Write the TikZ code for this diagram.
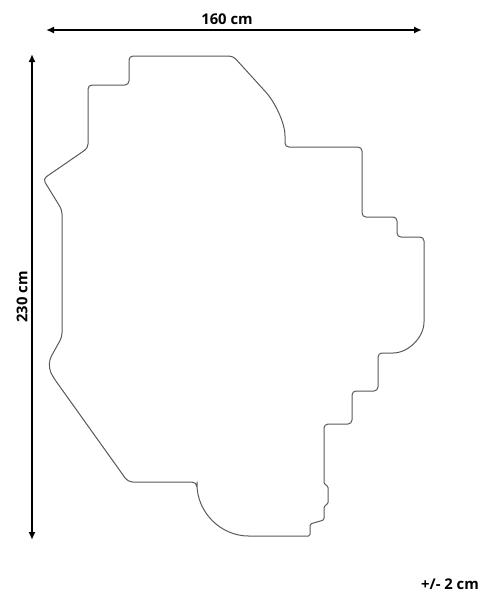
\documentclass[tikz,border=0pt]{standalone}
\usepackage{fontspec}
\setmainfont{Open Sans}
\usetikzlibrary{arrows.meta}
\begin{document}
\begin{tikzpicture}
[x=1pt,y=-1pt,
  dimDecorate/.style={{Latex[length=8pt,width=7pt]}-{Latex[length=8pt,width=7pt]},line width=2pt},
  outlineDecorate/.style={line width=1pt,draw=black!65,rounded corners=4pt},
  labelDecorate/.style={font=\fontsize{14.8}{17}\selectfont\bfseries,inner sep=0pt}]
\useasboundingbox (0,0) rectangle (492,600);
%% end points of the dimension lines
\foreach \pointname/\x/\y in {
  widthL/46/30, widthR/422/30, heightT/32/54, heightB/32/540}
{
  \coordinate (\pointname) at (\x,\y);
}
%% dimension lines
\draw[dimDecorate] (widthL) -- (widthR);
\draw[dimDecorate] (heightT) -- (heightB);
%% labels
\node (widthLabel) at (227,19) [labelDecorate] {160 cm};
\node (heightLabel) at (22,297) [labelDecorate,rotate=90] {230 cm};
\node (toleranceLabel) at (450,584) [labelDecorate] {+/- 2 cm};
%% outline of the rug
\draw[outlineDecorate]
  (88,148) -- (88,85) -- (129,85) -- (129,56) -- (233,56) -- (263,89)
  .. controls (274,101) and (285,122) .. (285,140) -- (285,147)
  -- (362,147) -- (362,217) -- (397,217) -- (397,237) -- (424,237)
  -- (424,318) arc[start angle=0,end angle=90,radius=35]
  -- (378,353) -- (378,391) -- (352,391) -- (352,424) -- (324,424)
  [rounded corners=1.5pt] -- (324,484) -- (328,486) -- (328,504) -- (324,506)
  -- (324,520) -- (310,524) -- (310,536) -- (250,536)
  arc[start angle=90,end angle=180,radius=53]
  [rounded corners=5pt] -- (197,482) -- (128,482) -- (53,377)
  [rounded corners=9pt] -- (47,364) [rounded corners=4pt] -- (62,337)
  -- (62,210) -- (43,179) -- cycle;
\end{tikzpicture}
\end{document}
